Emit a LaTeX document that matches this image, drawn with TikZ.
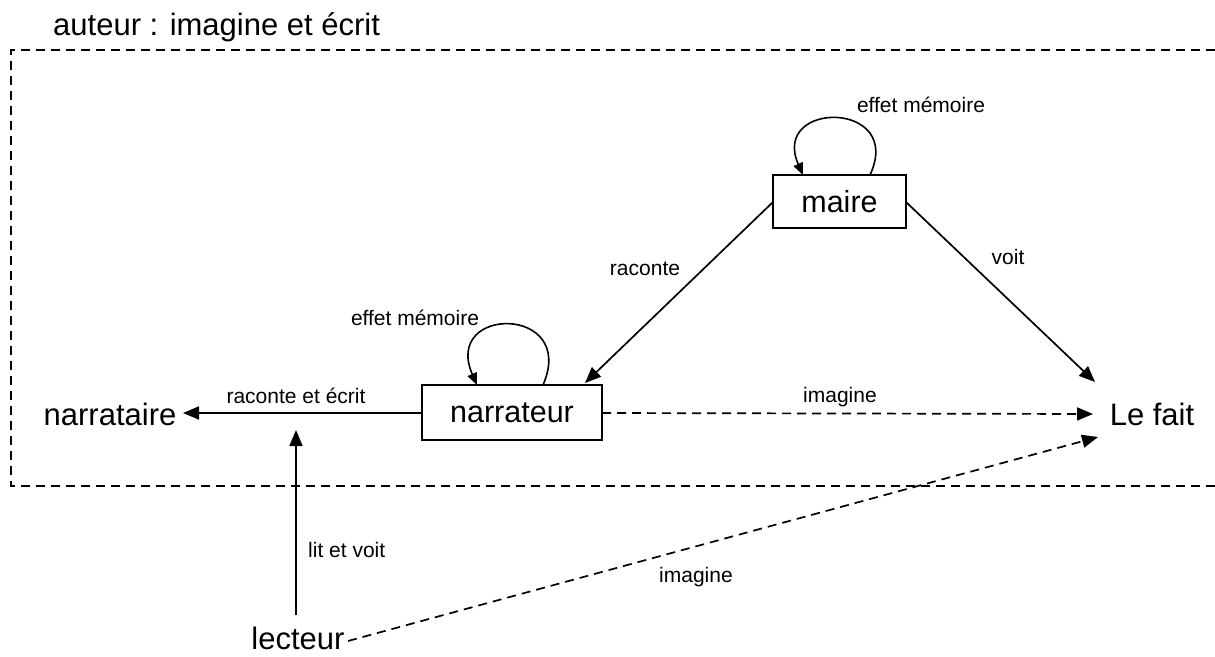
\documentclass[tikz,border=0pt]{standalone}
\usepackage{fontspec}
\setmainfont{Liberation Sans}
\usetikzlibrary{arrows.meta}
\begin{document}
\begin{tikzpicture}[x=1pt,y=-1pt,
  big/.style={font=\fontsize{31}{36}\selectfont, inner sep=0pt},
  small/.style={font=\fontsize{21}{25}\selectfont, inner sep=0pt},
  box/.style={draw, line width=1.6pt, inner sep=0pt, font=\fontsize{30.5}{36}\selectfont},
  conn/.style={line width=1.7pt, -{Triangle[length=16pt,width=13pt]}},
  loopc/.style={line width=1.6pt, -{Triangle[length=12pt,width=10pt]}},
  dconn/.style={conn, dash pattern=on 9pt off 6pt},
  frame/.style={line width=1.4pt, dash pattern=on 9pt off 6pt}]
\useasboundingbox (0,0) rectangle (1215,656);
% frame
\draw[frame] (1215,50) -- (11,50) -- (11,486) -- (1215,486);
\node[big, anchor=base west] (titre) at (53,35) {auteur : imagine et écrit};
% nodes
\node[box, minimum width=133pt, minimum height=53pt] (maire) at (839.5,201.5) {maire};
\node[box, minimum width=180pt, minimum height=55pt] (narrateur) at (512,412.5) {narrateur};
\node[big, anchor=base] (narrataire) at (110,425) {narrataire};
\node[big, anchor=base] (fait) at (1152,425) {Le fait};
\node[big, anchor=base] (lecteur) at (298,649) {lecteur};
% coordinates
\coordinate (faitA) at (1095,382);
\coordinate (faitB) at (1093,414);
\coordinate (faitC) at (1098,437);
\coordinate (lecA) at (296,615);
\coordinate (lecB) at (296,430);
\coordinate (lecC) at (348,641);
\coordinate (narA) at (422,413);
\coordinate (narB) at (602,413);
\coordinate (narC) at (183,413);
\coordinate (narT) at (585,383);
\coordinate (maiL) at (773,202);
\coordinate (maiR) at (906,202);
% connectors
\draw[conn] (maiL) -- (narT);
\draw[conn] (maiR) -- (faitA);
\draw[dconn] (narB) -- (faitB);
\draw[conn] (narA) -- (narC);
\draw[conn] (lecA) -- (lecB);
\draw[dconn] (lecC) -- (faitC);
% loops
\draw[loopc] (870,175) .. controls (905,100) and (770,100) .. (803,175);
\draw[loopc] (543,385) .. controls (578,305) and (442,305) .. (477,385);
% labels
\node[small, anchor=base] (l1) at (921,112) {effet mémoire};
\node[small, anchor=base] (l2) at (415,325) {effet mémoire};
\node[small, anchor=base] (l3) at (645,275) {raconte};
\node[small, anchor=base] (l4) at (1008,264) {voit};
\node[small, anchor=base] (l5) at (840,402) {imagine};
\node[small, anchor=base] (l6) at (296,403) {raconte et écrit};
\node[small, anchor=base west] (l7) at (308,557) {lit et voit};
\node[small, anchor=base west] (l8) at (659,582) {imagine};
\end{tikzpicture}
\end{document}
